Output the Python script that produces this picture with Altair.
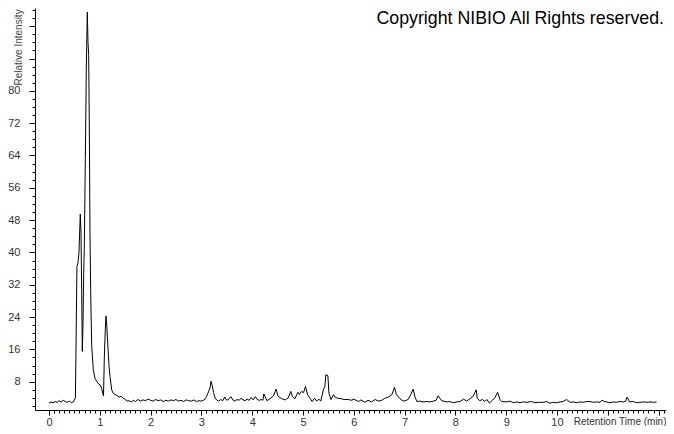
import altair as alt
import pandas as pd

# Retention time (min) and relative intensity
times = [
    0.00, 0.04, 0.08, 0.12, 0.16, 0.20, 0.24, 0.28, 0.32, 0.36, 0.40, 0.44, 0.48,
    0.52, 0.53, 0.55, 0.571, 0.59, 0.616, 0.63, 0.644, 0.656, 0.669, 0.683, 0.695,
    0.715, 0.734, 0.754, 0.768, 0.781, 0.793, 0.807, 0.82, 0.84, 0.872, 0.906,
    0.939, 0.965, 1.004, 1.037, 1.057, 1.073, 1.089, 1.108, 1.122, 1.136, 1.156,
    1.181, 1.201, 1.234, 1.26, 1.30, 1.34, 1.38, 1.42, 1.46, 1.50, 1.54,
    1.58, 1.62, 1.66, 1.70, 1.75, 1.80, 1.85, 1.90, 1.95, 2.00, 2.05, 2.10, 2.15,
    2.20, 2.25, 2.30, 2.35, 2.40, 2.45, 2.50, 2.55, 2.60, 2.65, 2.70, 2.75, 2.80,
    2.85, 2.90, 2.95, 3.00, 3.05, 3.08,
    3.10, 3.14, 3.17, 3.19, 3.21, 3.24, 3.27, 3.30, 3.34, 3.38, 3.42, 3.46, 3.50,
    3.54, 3.58, 3.62, 3.66, 3.70, 3.74, 3.78, 3.82, 3.86, 3.90, 3.94, 3.98, 4.02,
    4.06, 4.10, 4.14, 4.18,
    4.21, 4.23, 4.29, 4.35, 4.42, 4.47, 4.51, 4.58, 4.65, 4.71, 4.76, 4.79, 4.84,
    4.90, 4.93, 4.97, 5.01, 5.05, 5.09, 5.14, 5.18, 5.23, 5.27, 5.31, 5.35, 5.40,
    5.43, 5.45, 5.49, 5.51, 5.55, 5.60, 5.64, 5.69, 5.75, 5.81, 5.89, 5.95, 6.00,
    6.09, 6.14, 6.22, 6.28, 6.35, 6.42, 6.48, 6.55, 6.61, 6.68, 6.75, 6.80, 6.84,
    6.91, 6.97,
    7.01, 7.07, 7.12, 7.17, 7.20, 7.24, 7.30, 7.36, 7.44, 7.50, 7.57, 7.62, 7.66,
    7.73, 7.83, 7.89, 7.96, 8.03, 8.09, 8.16, 8.22, 8.29, 8.35, 8.41, 8.43, 8.48,
    8.53, 8.58, 8.62, 8.67, 8.73, 8.78, 8.83, 8.88, 8.91, 9.01, 9.07, 9.14, 9.21,
    9.27, 9.34, 9.40, 9.50, 9.57, 9.63, 9.73, 9.80, 9.86,
    9.93, 9.99, 10.06, 10.12, 10.19, 10.26, 10.32, 10.39, 10.45, 10.52, 10.58,
    10.65, 10.72, 10.78, 10.85, 10.88, 10.94, 11.04, 11.11, 11.17, 11.24, 11.31,
    11.35, 11.38, 11.43, 11.50, 11.57, 11.63, 11.70, 11.77, 11.83, 11.90, 11.96,
]
intensity = [
    2.7, 3.0, 2.8, 3.1, 2.9, 3.3, 3.0, 3.4, 3.1, 2.9, 3.2, 2.8, 3.0,
    4.0, 15.0, 36.5, 37.5, 40.0, 49.5, 45.0, 30.0, 15.5, 22.0, 35.0, 41.0,
    63.0, 85.0, 99.5, 92.0, 89.0, 72.0, 45.0, 31.0, 17.0, 11.0, 8.8,
    8.1, 7.6, 7.2, 6.4, 5.2, 4.5, 14.0, 21.0, 24.3, 22.0, 17.5,
    12.0, 9.3, 6.0, 5.2, 4.8, 4.6, 4.2, 4.4, 3.9, 3.6, 3.2,
    3.3, 3.0, 3.4, 3.1, 3.6, 3.2, 3.5, 3.3, 3.7, 3.4, 3.2, 3.6, 3.3,
    3.5, 3.1, 3.4, 3.2, 3.5, 3.3, 3.6, 3.2, 3.4, 3.1, 3.5, 3.3, 3.2,
    3.5, 3.1, 3.3, 3.2, 3.5, 3.8,
    4.3, 5.5, 6.5, 8.1, 7.2, 5.3, 4.0, 3.5, 3.2, 3.6, 3.3, 4.2, 3.4,
    3.7, 4.3, 3.5, 3.2, 3.6, 3.4, 3.9, 3.5, 3.3, 3.7, 3.4, 4.1, 3.5,
    4.3, 3.6, 3.4, 3.6,
    3.4, 5.0, 3.3, 3.8, 4.5, 6.2, 4.4, 3.8, 3.5, 4.0, 5.6, 4.4, 3.8,
    5.4, 4.8, 5.6, 5.3, 6.8, 4.8, 3.9, 3.1, 3.9, 3.2, 3.7, 3.2, 6.0,
    6.8, 9.7, 9.5, 5.2, 3.6, 4.8, 4.1, 3.9, 3.8, 3.6, 3.6, 3.4, 3.7,
    3.1, 3.5, 2.9, 3.4, 3.0, 3.6, 3.2, 3.4, 3.9, 4.2, 4.8, 6.6, 4.8,
    3.8, 3.2,
    3.3, 3.6, 4.8, 6.2, 4.4, 3.1, 3.2, 3.0, 3.1, 3.0, 3.2, 3.4, 4.5,
    3.3, 3.0, 3.1, 2.8, 3.0, 3.1, 3.7, 3.2, 3.8, 4.4, 6.0, 3.9, 3.3,
    3.6, 3.1, 3.6, 2.7, 3.4, 4.1, 5.4, 3.5, 3.1, 3.0, 3.2, 2.8, 3.0,
    2.8, 3.0, 2.9, 3.1, 2.8, 2.9, 2.9, 3.1, 2.7,
    2.9, 2.8, 3.0, 3.1, 3.6, 2.9, 3.0, 2.8, 3.0, 2.9, 3.1,
    3.1, 2.9, 3.0, 2.9, 3.4, 3.1, 2.8, 3.0, 2.9, 3.1, 3.0,
    3.2, 4.2, 3.0, 3.1, 2.8, 2.9, 3.0, 2.9, 3.0, 2.9, 3.0,
]

x_major = [0, 1, 2, 3, 4, 5, 6, 7, 8, 9, 10, 11, 12]
x_minor = [round(i * 0.1, 1) for i in range(0, 122)]
y_major = [8, 16, 24, 32, 40, 48, 56, 64, 72, 80, 88, 96]
y_minor = list(range(2, 101, 2))

x_title = "Retention Time (min)"
y_title = "Relative Intensity"
copyright_text = "Copyright NIBIO All Rights reserved."

df = pd.DataFrame({"t": times, "v": intensity})

FONT = "Liberation Sans"
W, H = 631, 402
xscale = alt.Scale(domain=[-0.2756, 12.146], nice=False, zero=False)
yscale = alt.Scale(domain=[1.0, 100.5], nice=False, zero=False)

base = alt.Chart(df)

trace = base.mark_line(color="black", strokeWidth=1, interpolate="linear").encode(
    x=alt.X(
        "t:Q",
        scale=xscale,
        axis=alt.Axis(
            orient="bottom", values=x_major, tickSize=5, tickColor="black",
            domainColor="black", grid=False, labelFlush=False,
            labelExpr="datum.value <= 10 ? datum.label : ''",
            labelFont=FONT, labelFontSize=11, labelColor="#333333", labelPadding=1,
            title=x_title, titleFont=FONT, titleFontSize=10, titleFontWeight="normal",
            titleColor="#333333", titleX=W, titleY=6, titleAlign="right",
            titleBaseline="top", titleAnchor="end",
        ),
    ),
    y=alt.Y(
        "v:Q",
        scale=yscale,
        axis=alt.Axis(
            orient="left", values=y_major, tickSize=6, tickColor="black",
            domainColor="black", grid=False, labelFlush=False,
            labelExpr="(datum.value >= 8 && datum.value <= 80) ? datum.label : ''",
            labelFont=FONT, labelFontSize=11, labelColor="#333333", labelPadding=9,
            title=y_title, titleFont=FONT, titleFontSize=10, titleFontWeight="normal",
            titleColor="#444444", titleX=-17, titleY=77, titleAngle=270,
            titleAlign="left", titleBaseline="middle",
        ),
    ),
)

minor = base.mark_line(opacity=0).encode(
    x=alt.X(
        "t:Q", scale=xscale,
        axis=alt.Axis(orient="bottom", values=x_minor, tickSize=3, tickColor="black",
                      domain=False, labels=False, grid=False, title=None),
    ),
    y=alt.Y(
        "v:Q", scale=yscale,
        axis=alt.Axis(orient="left", values=y_minor, tickSize=3, tickColor="black",
                      domain=False, labels=False, grid=False, title=None),
    ),
)

note = alt.Chart(pd.DataFrame({"label": [copyright_text]})).mark_text(
    align="right", baseline="alphabetic", font=FONT, fontSize=17.8, color="black"
).encode(x=alt.value(W - 2), y=alt.value(16), text="label:N")

chart = (
    alt.layer(trace, minor, note)
    .resolve_axis(x="independent", y="independent")
    .properties(
        width=W, height=H,
        autosize=alt.AutoSizeParams(type="none"),
        padding={"left": 27, "top": 0, "right": 0, "bottom": 16},
        background="white",
    )
    .configure_view(stroke=None)
)

chart.save("out.html", embed_options={"renderer": "svg", "actions": False})
